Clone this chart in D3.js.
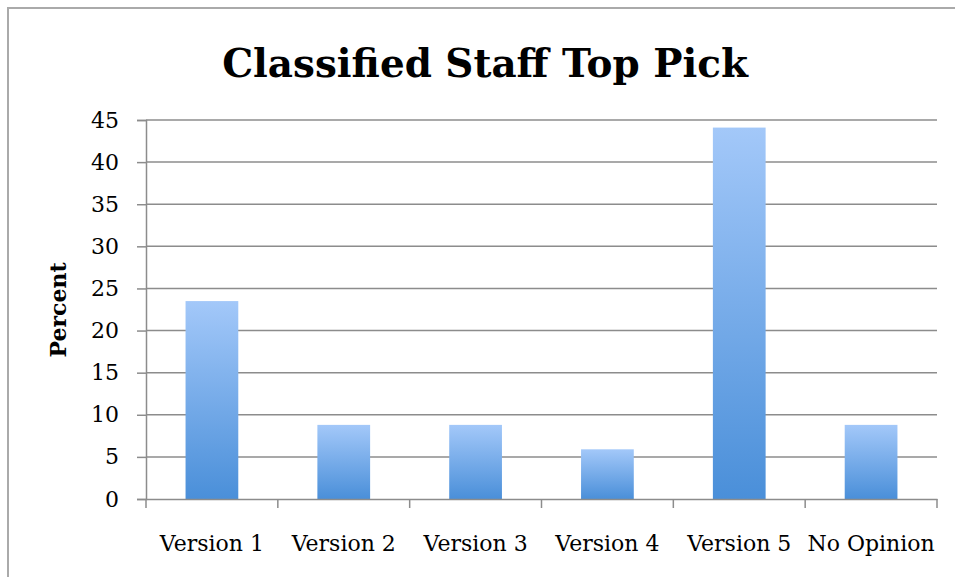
<!DOCTYPE html>
<html>
<head>
  <meta charset="utf-8">
  <title>Classified Staff Top Pick</title>
<style>
  body { margin: 0; background: #fff; }
  .title { font-family: "DejaVu Serif", serif; font-weight: bold; fill: #000; }
  .tick text { font-family: "DejaVu Serif", serif; font-size: 22px; fill: #000; }
  .ylabel { font-family: "DejaVu Serif", serif; font-weight: bold; font-size: 22px; }
</style>
</head>
<body>
<svg width="955" height="577"></svg>
<script src="https://cdn.jsdelivr.net/npm/d3@7"></script>
<script>

// data
var categories = ["Version 1", "Version 2", "Version 3", "Version 4", "Version 5", "No Opinion"];
var percents = [23.5, 8.8, 8.8, 5.9, 44.1, 8.8];
var yTicks = [0, 5, 10, 15, 20, 25, 30, 35, 40, 45];

var svg = d3.select("svg"),
    width = +svg.attr("width"),
    height = +svg.attr("height");

// outer frame (only top + left edges show in the picture)
svg.append("path")
    .attr("d", "M8," + height + "V8H" + width)
    .attr("fill", "none")
    .attr("stroke", "#aaa")
    .attr("stroke-width", 2);

var margin = {left: 146, right: 18, top: 120, bottom: 78};

var x = d3.scaleBand()
    .domain(categories)
    .range([margin.left, width - margin.right])
    .paddingInner(0.6)
    .paddingOuter(0.3);

var y = d3.scaleLinear()
    .domain([0, 45])
    .range([height - margin.bottom, margin.top]);

// gradient for bars
var grad = svg.append("defs").append("linearGradient")
    .attr("id", "barGrad")
    .attr("x1", 0).attr("y1", 0).attr("x2", 0).attr("y2", 1);
grad.append("stop").attr("offset", "0%").attr("stop-color", "#a3c8f9");
grad.append("stop").attr("offset", "100%").attr("stop-color", "#4a8fd9");

// gridlines
svg.append("g")
    .selectAll("line")
    .data(yTicks.slice(1))
    .enter().append("line")
      .attr("x1", margin.left)
      .attr("x2", width - margin.right)
      .attr("y1", function(d) { return y(d); })
      .attr("y2", function(d) { return y(d); })
      .attr("stroke", "#8c8c8c")
      .attr("stroke-width", 1.5);

// bars
svg.append("g")
    .selectAll("rect")
    .data(percents)
    .enter().append("rect")
      .attr("x", function(d, i) { return x(categories[i]); })
      .attr("y", function(d) { return y(d); })
      .attr("width", x.bandwidth())
      .attr("height", function(d) { return y(0) - y(d); })
      .attr("fill", "url(#barGrad)");

// y axis
var yAxis = svg.append("g")
    .attr("transform", "translate(" + margin.left + ",0)")
    .call(d3.axisLeft(y).tickValues(yTicks).tickSize(9).tickPadding(18));
yAxis.select(".domain").attr("stroke", "#8c8c8c").attr("stroke-width", 1.5);
yAxis.selectAll(".tick line").attr("stroke", "#8c8c8c").attr("stroke-width", 1.5);

// x axis: ticks sit on the category boundaries
var bounds = d3.range(categories.length + 1).map(function(i) {
  return margin.left + i * (width - margin.right - margin.left) / categories.length;
});
var xAxis = svg.append("g")
    .attr("transform", "translate(0," + y(0) + ")")
    .call(d3.axisBottom(x).tickSize(0).tickPadding(36));
xAxis.select(".domain").attr("stroke", "#8c8c8c").attr("stroke-width", 1.5);
xAxis.selectAll(".tick line").remove();
xAxis.selectAll("line.sep")
    .data(bounds)
    .enter().append("line")
      .attr("class", "sep")
      .attr("x1", function(d) { return d; })
      .attr("x2", function(d) { return d; })
      .attr("y1", 0)
      .attr("y2", 9)
      .attr("stroke", "#8c8c8c")
      .attr("stroke-width", 1.5);
svg.selectAll("g").attr("font-family", null).attr("font-size", null);

// title
var title = svg.append("text")
    .attr("class", "title")
    .attr("x", 485)
    .attr("y", 77)
    .attr("text-anchor", "middle")
    .style("font-size", "40px")
    .text("Classified Staff Top Pick");
// squeeze to the width in the picture
var tw = title.node().getComputedTextLength();
title.style("font-size", (40 * 526 / tw) + "px");

// y label
svg.append("text")
    .attr("class", "ylabel")
    .attr("transform", "translate(66,310) rotate(-90)")
    .attr("text-anchor", "middle")
    .text("Percent");

</script>
</body>
</html>
